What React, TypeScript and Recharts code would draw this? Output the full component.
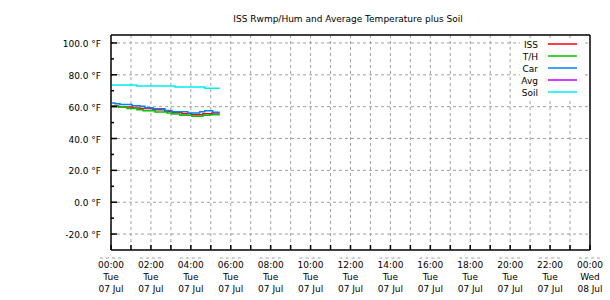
import React from 'react';
import { LineChart, Line, XAxis, YAxis, CartesianGrid, Legend } from 'recharts';

// Temperature readings (°F) against hours since midnight, Tue 07 Jul
const issHours = [0.05, 0.37, 1.1, 1.45, 2.1, 2.7, 3.05, 3.55, 4.05, 4.6, 5.05, 5.45];
const issTemps = [60.6, 59.8, 59.2, 58.8, 58.1, 57.1, 56.4, 55.6, 55.0, 55.6, 56.0, 56.0];

const thHours = [0.05, 0.37, 0.8, 1.3, 1.6, 2.2, 2.8, 3.05, 3.45, 4.05, 4.6, 4.95, 5.45];
const thTemps = [60.2, 59.6, 58.8, 58.1, 57.5, 56.7, 56.1, 55.4, 54.6, 54.0, 54.6, 55.0, 55.0];

const carHours = [0.05, 0.2, 0.45, 1.05, 1.45, 1.7, 2.1, 2.7, 3.05, 3.85, 4.45, 4.7, 5.1, 5.45];
const carTemps = [62.3, 61.9, 61.3, 60.6, 60.2, 59.3, 58.7, 57.6, 56.8, 56.1, 56.8, 57.5, 56.5, 56.5];

const avgHours: number[] = [];
const avgTemps: number[] = [];

const soilHours = [0.05, 1.3, 3.2, 4.7, 5.45];
const soilTemps = [73.6, 72.9, 72.3, 71.6, 71.6];

// Axis ticks and labels
const hourTicks = [0, 1, 2, 3, 4, 5, 6, 7, 8, 9, 10, 11, 12, 13, 14, 15, 16, 17, 18, 19, 20, 21, 22, 23, 24];
const xTickTimes = ['00:00', '02:00', '04:00', '06:00', '08:00', '10:00', '12:00', '14:00', '16:00', '18:00', '20:00', '22:00', '00:00'];
const xTickDays = ['Tue', 'Tue', 'Tue', 'Tue', 'Tue', 'Tue', 'Tue', 'Tue', 'Tue', 'Tue', 'Tue', 'Tue', 'Wed'];
const xTickDates = ['07 Jul', '07 Jul', '07 Jul', '07 Jul', '07 Jul', '07 Jul', '07 Jul', '07 Jul', '07 Jul', '07 Jul', '07 Jul', '07 Jul', '08 Jul'];
const yTicks = [-20, -10, 0, 10, 20, 30, 40, 50, 60, 70, 80, 90, 100];
const yGrid = [-20, 0, 20, 40, 60, 80, 100];
const xGrid = [1, 2, 3, 4, 5, 6, 7, 8, 9, 10, 11, 12, 13, 14, 15, 16, 17, 18, 19, 20, 21, 22, 23];

const FONT = 'DejaVu Sans';
const FS = 9;
const GRID = '#a0a0a0';

const toPoints = (hours: number[], temps: number[]) =>
  hours.map((h, i) => ({ hour: h, temp: temps[i] }));

const series = [
  { name: 'ISS', color: '#ff0000', data: toPoints(issHours, issTemps) },
  { name: 'T/H', color: '#00c000', data: toPoints(thHours, thTemps) },
  { name: 'Car', color: '#0080ff', data: toPoints(carHours, carTemps) },
  { name: 'Avg', color: '#c000ff', data: toPoints(avgHours, avgTemps) },
  { name: 'Soil', color: '#00eeee', data: toPoints(soilHours, soilTemps) },
];
const seriesOrder = series.map((s) => s.name);

const BottomTick = (props: any) => {
  const { x, y, payload } = props;
  const h = payload.value as number;
  const idx = h / 2;
  const labeled = Number.isInteger(idx);
  return (
    <g>
      <line x1={x} x2={x} y1={y} y2={y - 5} stroke="#000" strokeWidth={1.5} />
      {labeled && (
        <g fontFamily={FONT} fontSize={FS} fill="#000" textAnchor="middle">
          <line x1={x - 11} x2={x + 11} y1={y + 8} y2={y + 8} stroke={GRID} strokeDasharray="3 3" />
          <text x={x} y={y + 18}>{xTickTimes[idx]}</text>
          <text x={x} y={y + 30}>{xTickDays[idx]}</text>
          <text x={x} y={y + 42}>{xTickDates[idx]}</text>
        </g>
      )}
    </g>
  );
};

const TopTick = (props: any) => {
  const { x, y } = props;
  return <line x1={x} x2={x} y1={y} y2={y + 5} stroke="#000" strokeWidth={1.5} />;
};

const LeftTick = (props: any) => {
  const { x, y, payload } = props;
  const v = payload.value as number;
  const major = v % 20 === 0;
  return (
    <g>
      <line x1={x} x2={x + (major ? 6 : 3)} y1={y} y2={y} stroke="#000" strokeWidth={1.5} />
      {major && (
        <text x={x - 10} y={y + 4} textAnchor="end" fontFamily={FONT} fontSize={FS} fill="#000">
          {`${v.toFixed(1)} °F`}
        </text>
      )}
    </g>
  );
};

const renderLegend = (props: any) => {
  const items = ([...(props.payload ?? [])] as any[]).sort(
    (a, b) => seriesOrder.indexOf(a.value) - seriesOrder.indexOf(b.value)
  );
  return (
    <svg width={64} height={58} style={{ display: 'block', overflow: 'visible' }}>
      <rect x={0} y={0} width={64} height={58} fill="#fff" />
      {items.map((it, i) => (
        <g key={it.value}>
          <text x={18} y={4 + 12 * i + 3.5} textAnchor="end" fontFamily={FONT} fontSize={FS} fill="#000">
            {it.value}
          </text>
          <line x1={28} x2={57} y1={4 + 12 * i} y2={4 + 12 * i} stroke={it.color} strokeWidth={1.5} />
        </g>
      ))}
    </svg>
  );
};

export default function App() {
  return (
    <div style={{ position: 'absolute', left: 0, top: 0, width: 610, height: 300, background: '#fff' }}>
      <svg width={610} height={300} style={{ position: 'absolute', left: 0, top: 0 }}>
        <text x={348} y={22} textAnchor="middle" fontFamily={FONT} fontSize={FS} fill="#000">
          ISS Rwmp/Hum and Average Temperature plus Soil
        </text>
      </svg>
      <div style={{ position: 'absolute', left: 0, top: 0 }}>
        <LineChart width={610} height={300} margin={{ top: 30, right: 0, bottom: 0, left: 0 }}>
          <CartesianGrid
            xAxisId="bottom"
            yAxisId="left"
            horizontalValues={yGrid}
            verticalValues={xGrid}
            stroke={GRID}
            strokeDasharray="3 3"
          />
          <XAxis
            xAxisId="bottom"
            dataKey="hour"
            type="number"
            domain={[0, 24]}
            ticks={hourTicks}
            interval={0}
            height={50}
            tickSize={0}
            tickMargin={0}
            tickLine={false}
            tick={<BottomTick />}
            axisLine={{ stroke: '#000', strokeWidth: 1.5 }}
          />
          <XAxis
            xAxisId="top"
            orientation="top"
            dataKey="hour"
            type="number"
            domain={[0, 24]}
            ticks={hourTicks}
            interval={0}
            height={5}
            tickSize={0}
            tickMargin={0}
            tickLine={false}
            tick={<TopTick />}
            axisLine={{ stroke: '#000', strokeWidth: 1.5 }}
          />
          <YAxis
            yAxisId="left"
            type="number"
            domain={[-30, 105]}
            ticks={yTicks}
            interval={0}
            width={111}
            tickSize={0}
            tickMargin={0}
            tickLine={false}
            tick={<LeftTick />}
            axisLine={{ stroke: '#000', strokeWidth: 1.5 }}
          />
          <YAxis
            yAxisId="right"
            orientation="right"
            type="number"
            domain={[-30, 105]}
            width={20}
            tick={false}
            tickLine={false}
            axisLine={{ stroke: '#000', strokeWidth: 1.5 }}
          />
          <Legend
            layout="horizontal"
            align="center"
            verticalAlign="middle"
            content={renderLegend}
            wrapperStyle={{ left: 520, top: 40, width: 64, height: 58 }}
          />
          {series.map((s) => (
            <Line
              key={s.name}
              xAxisId="bottom"
              yAxisId="left"
              data={s.data}
              dataKey="temp"
              name={s.name}
              type="stepAfter"
              stroke={s.color}
              strokeWidth={1.5}
              dot={false}
              activeDot={false}
              isAnimationActive={false}
            />
          ))}
        </LineChart>
      </div>
    </div>
  );
}
